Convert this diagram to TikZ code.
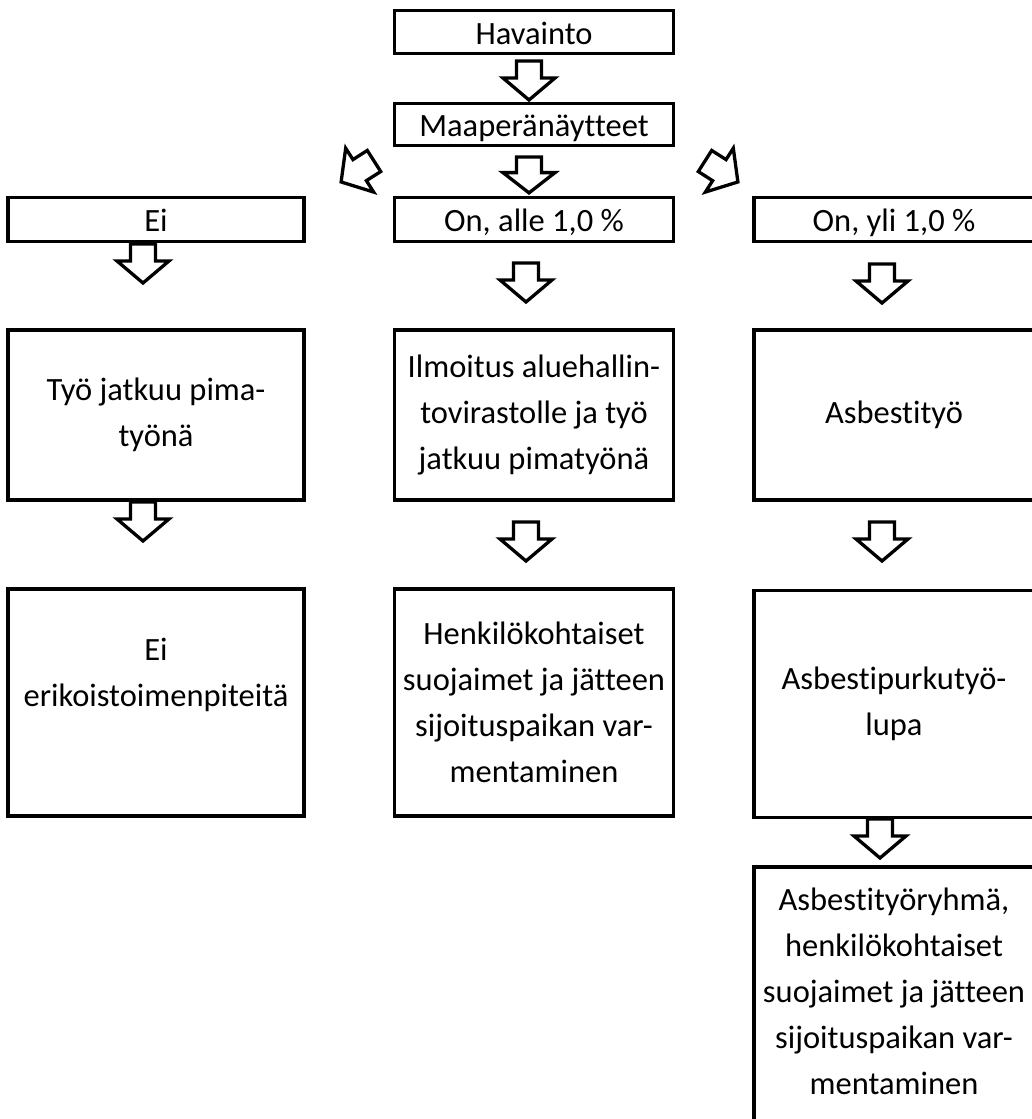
\documentclass[tikz,border=0pt]{standalone}
\usepackage{fontspec}
\setmainfont{Carlito}[Ligatures={NoCommon}]
\begin{document}
\begin{tikzpicture}[x=1pt,y=-1pt,
  box/.style={draw, line width=3.5pt, fill=white, align=center, inner sep=0pt,
    font=\fontsize{32.5}{46}\selectfont},
  single/.style={text height=26pt, text depth=2pt},
  txt/.style={align=center, inner sep=0pt, font=\fontsize{32.5}{46}\selectfont},
  barrow/.pic={\draw[line width=3.3pt, line join=miter, fill=white]
    (-12.5,0) -- (12.5,0) -- (12.5,17) -- (26,17) -- (0,39) -- (-26,17) -- (-12.5,17) -- cycle;}
]
\clip (0,0) rectangle (1032,1119);
\fill[white] (0,0) rectangle (1032,1119);

% top
\node[box, single, minimum width=279, minimum height=43] (hav) at (534,32) {Havainto};
\node[box, single, minimum width=279, minimum height=42] (maa) at (534,124.5) {Maaperänäytteet};

% row 1
\node[box, single, minimum width=296, minimum height=44] (ei)   at (156,219.5) {Ei};
\node[box, single, minimum width=279, minimum height=44] (alle) at (534,219.5) {On, alle 1,0 \%};
\node[box, single, minimum width=280, minimum height=44] (yli)  at (894,219.5) {On, yli 1,0 \%};

% row 2
\node[box, minimum width=296, minimum height=170] (tyo)   at (156,415) {Työ jatkuu pima-\\työnä};
\node[box, minimum width=279, minimum height=170] (ilm)   at (534,415) {Ilmoitus aluehallin-\\tovirastolle ja työ\\jatkuu pimatyönä};
\node[box, minimum width=280, minimum height=170] (asb)   at (894,415) {Asbestityö};

% row 3
\node[box, minimum width=296, minimum height=227] (erik)  at (156,702.5) {Ei\\erikoistoimenpiteitä\\\strut};
\node[box, minimum width=279, minimum height=227] (henk)  at (534,702.5) {Henkilökohtaiset\\suojaimet ja jätteen\\sijoituspaikan var-\\mentaminen};
\node[box, minimum width=280, minimum height=227] (lupa)  at (894,704) {Asbestipurkutyö-\\lupa};

% last (cut off)
\node[box, minimum width=280, minimum height=290] (ryhmabox) at (894,1012) {};
\node[txt] (ryhma) at (894,991) {Asbestityöryhmä,\\henkilökohtaiset\\suojaimet ja jätteen\\sijoituspaikan var-\\mentaminen};

% block arrows
\pic at (529,61) {barrow};
\pic[yscale=0.92] at (529,157) {barrow};
\pic[rotate=-57.5] at (374,161) {barrow};
\pic[rotate=57.5] at (705,161) {barrow};

\pic at (143,244) {barrow};
\pic at (526,263) {barrow};
\pic at (882,264) {barrow};

\pic at (143,502) {barrow};
\pic at (526,522) {barrow};
\pic at (882,522) {barrow};

\pic at (880,819) {barrow};
\end{tikzpicture}
\end{document}
